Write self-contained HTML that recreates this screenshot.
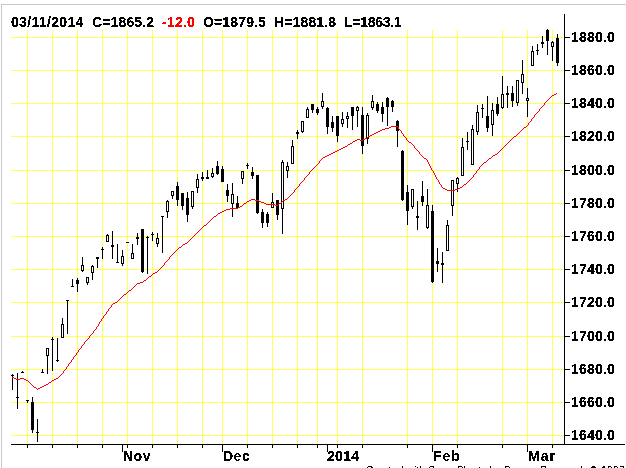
<!DOCTYPE html>
<html><head><meta charset="utf-8"><style>
html,body{margin:0;padding:0;background:#fff;}
body{width:626px;height:468px;overflow:hidden;}
svg{display:block;}
text{font-family:"Liberation Sans", Arial, sans-serif;}
</style></head><body>
<svg width="626" height="468" viewBox="0 0 626 468">
<g shape-rendering="crispEdges"><rect x="1" y="4" width="625" height="1" fill="#c8c8c8"/><rect x="1" y="4" width="1" height="464" fill="#c8c8c8"/><rect x="11" y="37" width="553" height="1" fill="#ffff55"/><rect x="11" y="70" width="553" height="1" fill="#ffff55"/><rect x="11" y="103" width="553" height="1" fill="#ffff55"/><rect x="11" y="136" width="553" height="1" fill="#ffff55"/><rect x="11" y="170" width="553" height="1" fill="#ffff55"/><rect x="11" y="203" width="553" height="1" fill="#ffff55"/><rect x="11" y="236" width="553" height="1" fill="#ffff55"/><rect x="11" y="269" width="553" height="1" fill="#ffff55"/><rect x="11" y="302" width="553" height="1" fill="#ffff55"/><rect x="11" y="336" width="553" height="1" fill="#ffff55"/><rect x="11" y="369" width="553" height="1" fill="#ffff55"/><rect x="11" y="402" width="553" height="1" fill="#ffff55"/><rect x="11" y="435" width="553" height="1" fill="#ffff55"/><rect x="27" y="30" width="1" height="414" fill="#ffff55"/><rect x="52" y="30" width="1" height="414" fill="#ffff55"/><rect x="77" y="30" width="1" height="414" fill="#ffff55"/><rect x="102" y="30" width="1" height="414" fill="#ffff55"/><rect x="127" y="30" width="1" height="414" fill="#ffff55"/><rect x="152" y="30" width="1" height="414" fill="#ffff55"/><rect x="177" y="30" width="1" height="414" fill="#ffff55"/><rect x="202" y="30" width="1" height="414" fill="#ffff55"/><rect x="222" y="30" width="1" height="414" fill="#ffff55"/><rect x="247" y="30" width="1" height="414" fill="#ffff55"/><rect x="272" y="30" width="1" height="414" fill="#ffff55"/><rect x="297" y="30" width="1" height="414" fill="#ffff55"/><rect x="317" y="30" width="1" height="414" fill="#ffff55"/><rect x="337" y="30" width="1" height="414" fill="#ffff55"/><rect x="362" y="30" width="1" height="414" fill="#ffff55"/><rect x="407" y="30" width="1" height="414" fill="#ffff55"/><rect x="432" y="30" width="1" height="414" fill="#ffff55"/><rect x="457" y="30" width="1" height="414" fill="#ffff55"/><rect x="502" y="30" width="1" height="414" fill="#ffff55"/><rect x="527" y="30" width="1" height="414" fill="#ffff55"/><rect x="552" y="30" width="1" height="414" fill="#ffff55"/></g>
<g shape-rendering="crispEdges"><rect x="12" y="374" width="1" height="16" fill="#000"/><rect x="11" y="375" width="3" height="1" fill="#000"/><rect x="17" y="373" width="1" height="36" fill="#000"/><rect x="16" y="397" width="3" height="1" fill="#000"/><rect x="22" y="371" width="1" height="2" fill="#000"/><rect x="21" y="372" width="3" height="1" fill="#000"/><rect x="27" y="400" width="1" height="3" fill="#000"/><rect x="26" y="400" width="3" height="1" fill="#000"/><rect x="32" y="397" width="1" height="5" fill="#000"/><rect x="32" y="430" width="1" height="3" fill="#000"/><rect x="31" y="402" width="3" height="28" fill="#000"/><rect x="37" y="419" width="1" height="23" fill="#000"/><rect x="36" y="432" width="3" height="1" fill="#000"/><rect x="42" y="369" width="1" height="4" fill="#000"/><rect x="41" y="372" width="3" height="1" fill="#000"/><rect x="47" y="356" width="1" height="18" fill="#000"/><rect x="46" y="348" width="3" height="8" fill="#000"/><rect x="47" y="349" width="1" height="6" fill="#fff"/><rect x="52" y="337" width="1" height="34" fill="#000"/><rect x="51" y="339" width="3" height="1" fill="#000"/><rect x="57" y="338" width="1" height="24" fill="#000"/><rect x="56" y="360" width="3" height="1" fill="#000"/><rect x="62" y="318" width="1" height="6" fill="#000"/><rect x="61" y="324" width="3" height="14" fill="#000"/><rect x="62" y="325" width="1" height="12" fill="#fff"/><rect x="67" y="300" width="1" height="34" fill="#000"/><rect x="66" y="300" width="3" height="1" fill="#000"/><rect x="72" y="279" width="1" height="8" fill="#000"/><rect x="71" y="286" width="3" height="1" fill="#000"/><rect x="77" y="278" width="1" height="2" fill="#000"/><rect x="77" y="284" width="1" height="8" fill="#000"/><rect x="76" y="280" width="3" height="4" fill="#000"/><rect x="82" y="257" width="1" height="8" fill="#000"/><rect x="82" y="271" width="1" height="1" fill="#000"/><rect x="81" y="265" width="3" height="6" fill="#000"/><rect x="82" y="266" width="1" height="4" fill="#fff"/><rect x="87" y="283" width="1" height="2" fill="#000"/><rect x="86" y="277" width="3" height="6" fill="#000"/><rect x="87" y="278" width="1" height="4" fill="#fff"/><rect x="92" y="265" width="1" height="1" fill="#000"/><rect x="92" y="273" width="1" height="7" fill="#000"/><rect x="91" y="266" width="3" height="7" fill="#000"/><rect x="92" y="267" width="1" height="5" fill="#fff"/><rect x="97" y="259" width="1" height="9" fill="#000"/><rect x="96" y="257" width="3" height="2" fill="#000"/><rect x="102" y="247" width="1" height="12" fill="#000"/><rect x="101" y="249" width="3" height="1" fill="#000"/><rect x="107" y="234" width="1" height="1" fill="#000"/><rect x="106" y="235" width="3" height="7" fill="#000"/><rect x="107" y="236" width="1" height="5" fill="#fff"/><rect x="112" y="231" width="1" height="14" fill="#000"/><rect x="112" y="247" width="1" height="12" fill="#000"/><rect x="111" y="245" width="3" height="2" fill="#000"/><rect x="117" y="244" width="1" height="19" fill="#000"/><rect x="116" y="262" width="3" height="1" fill="#000"/><rect x="122" y="250" width="1" height="6" fill="#000"/><rect x="122" y="264" width="1" height="2" fill="#000"/><rect x="121" y="256" width="3" height="8" fill="#000"/><rect x="122" y="257" width="1" height="6" fill="#fff"/><rect x="127" y="242" width="1" height="1" fill="#000"/><rect x="126" y="242" width="3" height="1" fill="#000"/><rect x="132" y="244" width="1" height="9" fill="#000"/><rect x="131" y="253" width="3" height="6" fill="#000"/><rect x="132" y="254" width="1" height="4" fill="#fff"/><rect x="137" y="233" width="1" height="4" fill="#000"/><rect x="137" y="239" width="1" height="6" fill="#000"/><rect x="136" y="237" width="3" height="2" fill="#000"/><rect x="142" y="272" width="1" height="1" fill="#000"/><rect x="141" y="229" width="3" height="43" fill="#000"/><rect x="147" y="236" width="1" height="38" fill="#000"/><rect x="146" y="237" width="3" height="1" fill="#000"/><rect x="152" y="232" width="1" height="9" fill="#000"/><rect x="151" y="234" width="3" height="1" fill="#000"/><rect x="157" y="233" width="1" height="5" fill="#000"/><rect x="157" y="244" width="1" height="3" fill="#000"/><rect x="156" y="238" width="3" height="6" fill="#000"/><rect x="157" y="239" width="1" height="4" fill="#fff"/><rect x="162" y="216" width="1" height="37" fill="#000"/><rect x="161" y="216" width="3" height="1" fill="#000"/><rect x="167" y="200" width="1" height="1" fill="#000"/><rect x="167" y="212" width="1" height="6" fill="#000"/><rect x="166" y="201" width="3" height="11" fill="#000"/><rect x="167" y="202" width="1" height="9" fill="#fff"/><rect x="172" y="196" width="1" height="3" fill="#000"/><rect x="171" y="191" width="3" height="5" fill="#000"/><rect x="172" y="192" width="1" height="3" fill="#fff"/><rect x="177" y="182" width="1" height="4" fill="#000"/><rect x="177" y="200" width="1" height="6" fill="#000"/><rect x="176" y="186" width="3" height="14" fill="#000"/><rect x="182" y="206" width="1" height="4" fill="#000"/><rect x="181" y="193" width="3" height="13" fill="#000"/><rect x="187" y="192" width="1" height="6" fill="#000"/><rect x="187" y="215" width="1" height="7" fill="#000"/><rect x="186" y="198" width="3" height="17" fill="#000"/><rect x="192" y="207" width="1" height="2" fill="#000"/><rect x="191" y="191" width="3" height="16" fill="#000"/><rect x="192" y="192" width="1" height="14" fill="#fff"/><rect x="197" y="174" width="1" height="5" fill="#000"/><rect x="197" y="188" width="1" height="5" fill="#000"/><rect x="196" y="179" width="3" height="9" fill="#000"/><rect x="197" y="180" width="1" height="7" fill="#fff"/><rect x="202" y="172" width="1" height="5" fill="#000"/><rect x="202" y="179" width="1" height="2" fill="#000"/><rect x="201" y="177" width="3" height="2" fill="#000"/><rect x="207" y="170" width="1" height="7" fill="#000"/><rect x="206" y="177" width="3" height="2" fill="#000"/><rect x="212" y="168" width="1" height="5" fill="#000"/><rect x="212" y="177" width="1" height="1" fill="#000"/><rect x="211" y="173" width="3" height="4" fill="#000"/><rect x="212" y="174" width="1" height="2" fill="#fff"/><rect x="217" y="161" width="1" height="5" fill="#000"/><rect x="217" y="174" width="1" height="1" fill="#000"/><rect x="216" y="166" width="3" height="8" fill="#000"/><rect x="222" y="166" width="1" height="3" fill="#000"/><rect x="221" y="169" width="3" height="13" fill="#000"/><rect x="227" y="184" width="1" height="6" fill="#000"/><rect x="227" y="196" width="1" height="6" fill="#000"/><rect x="226" y="190" width="3" height="6" fill="#000"/><rect x="232" y="183" width="1" height="11" fill="#000"/><rect x="232" y="204" width="1" height="13" fill="#000"/><rect x="231" y="194" width="3" height="10" fill="#000"/><rect x="232" y="195" width="1" height="8" fill="#fff"/><rect x="237" y="196" width="1" height="7" fill="#000"/><rect x="236" y="203" width="3" height="5" fill="#000"/><rect x="242" y="179" width="1" height="5" fill="#000"/><rect x="241" y="171" width="3" height="8" fill="#000"/><rect x="242" y="172" width="1" height="6" fill="#fff"/><rect x="247" y="163" width="1" height="6" fill="#000"/><rect x="246" y="165" width="3" height="1" fill="#000"/><rect x="252" y="167" width="1" height="5" fill="#000"/><rect x="252" y="176" width="1" height="3" fill="#000"/><rect x="251" y="172" width="3" height="4" fill="#000"/><rect x="257" y="213" width="1" height="1" fill="#000"/><rect x="256" y="175" width="3" height="38" fill="#000"/><rect x="262" y="209" width="1" height="3" fill="#000"/><rect x="262" y="223" width="1" height="5" fill="#000"/><rect x="261" y="212" width="3" height="11" fill="#000"/><rect x="267" y="212" width="1" height="2" fill="#000"/><rect x="267" y="223" width="1" height="4" fill="#000"/><rect x="266" y="214" width="3" height="9" fill="#000"/><rect x="272" y="193" width="1" height="9" fill="#000"/><rect x="271" y="202" width="3" height="6" fill="#000"/><rect x="272" y="203" width="1" height="4" fill="#fff"/><rect x="277" y="215" width="1" height="5" fill="#000"/><rect x="276" y="200" width="3" height="15" fill="#000"/><rect x="282" y="160" width="1" height="2" fill="#000"/><rect x="282" y="209" width="1" height="25" fill="#000"/><rect x="281" y="162" width="3" height="47" fill="#000"/><rect x="282" y="163" width="1" height="45" fill="#fff"/><rect x="287" y="162" width="1" height="4" fill="#000"/><rect x="287" y="171" width="1" height="7" fill="#000"/><rect x="286" y="166" width="3" height="5" fill="#000"/><rect x="287" y="167" width="1" height="3" fill="#fff"/><rect x="292" y="140" width="1" height="6" fill="#000"/><rect x="291" y="146" width="3" height="18" fill="#000"/><rect x="292" y="147" width="1" height="16" fill="#fff"/><rect x="297" y="130" width="1" height="2" fill="#000"/><rect x="297" y="134" width="1" height="5" fill="#000"/><rect x="296" y="132" width="3" height="2" fill="#000"/><rect x="302" y="132" width="1" height="1" fill="#000"/><rect x="301" y="121" width="3" height="11" fill="#000"/><rect x="302" y="122" width="1" height="9" fill="#fff"/><rect x="307" y="107" width="1" height="2" fill="#000"/><rect x="306" y="109" width="3" height="9" fill="#000"/><rect x="307" y="110" width="1" height="7" fill="#fff"/><rect x="312" y="110" width="1" height="3" fill="#000"/><rect x="311" y="104" width="3" height="6" fill="#000"/><rect x="317" y="107" width="1" height="2" fill="#000"/><rect x="317" y="113" width="1" height="2" fill="#000"/><rect x="316" y="109" width="3" height="4" fill="#000"/><rect x="322" y="93" width="1" height="8" fill="#000"/><rect x="322" y="107" width="1" height="2" fill="#000"/><rect x="321" y="101" width="3" height="6" fill="#000"/><rect x="322" y="102" width="1" height="4" fill="#fff"/><rect x="327" y="107" width="1" height="1" fill="#000"/><rect x="327" y="127" width="1" height="7" fill="#000"/><rect x="326" y="108" width="3" height="19" fill="#000"/><rect x="332" y="116" width="1" height="6" fill="#000"/><rect x="332" y="128" width="1" height="4" fill="#000"/><rect x="331" y="122" width="3" height="6" fill="#000"/><rect x="337" y="136" width="1" height="6" fill="#000"/><rect x="336" y="116" width="3" height="20" fill="#000"/><rect x="342" y="112" width="1" height="7" fill="#000"/><rect x="342" y="124" width="1" height="3" fill="#000"/><rect x="341" y="119" width="3" height="5" fill="#000"/><rect x="342" y="120" width="1" height="3" fill="#fff"/><rect x="347" y="112" width="1" height="4" fill="#000"/><rect x="347" y="119" width="1" height="9" fill="#000"/><rect x="346" y="116" width="3" height="3" fill="#000"/><rect x="347" y="117" width="1" height="1" fill="#fff"/><rect x="352" y="116" width="1" height="14" fill="#000"/><rect x="351" y="107" width="3" height="9" fill="#000"/><rect x="357" y="106" width="1" height="1" fill="#000"/><rect x="357" y="111" width="1" height="16" fill="#000"/><rect x="356" y="107" width="3" height="4" fill="#000"/><rect x="357" y="108" width="1" height="2" fill="#fff"/><rect x="362" y="107" width="1" height="8" fill="#000"/><rect x="362" y="146" width="1" height="8" fill="#000"/><rect x="361" y="115" width="3" height="31" fill="#000"/><rect x="367" y="113" width="1" height="2" fill="#000"/><rect x="367" y="139" width="1" height="5" fill="#000"/><rect x="366" y="115" width="3" height="24" fill="#000"/><rect x="367" y="116" width="1" height="22" fill="#fff"/><rect x="372" y="95" width="1" height="6" fill="#000"/><rect x="372" y="108" width="1" height="2" fill="#000"/><rect x="371" y="101" width="3" height="7" fill="#000"/><rect x="372" y="102" width="1" height="5" fill="#fff"/><rect x="377" y="102" width="1" height="2" fill="#000"/><rect x="377" y="111" width="1" height="2" fill="#000"/><rect x="376" y="104" width="3" height="7" fill="#000"/><rect x="382" y="102" width="1" height="5" fill="#000"/><rect x="382" y="114" width="1" height="8" fill="#000"/><rect x="381" y="107" width="3" height="7" fill="#000"/><rect x="387" y="97" width="1" height="1" fill="#000"/><rect x="387" y="107" width="1" height="19" fill="#000"/><rect x="386" y="98" width="3" height="9" fill="#000"/><rect x="392" y="100" width="1" height="1" fill="#000"/><rect x="392" y="107" width="1" height="5" fill="#000"/><rect x="391" y="101" width="3" height="6" fill="#000"/><rect x="397" y="120" width="1" height="1" fill="#000"/><rect x="397" y="131" width="1" height="16" fill="#000"/><rect x="396" y="121" width="3" height="10" fill="#000"/><rect x="402" y="150" width="1" height="1" fill="#000"/><rect x="402" y="200" width="1" height="1" fill="#000"/><rect x="401" y="151" width="3" height="49" fill="#000"/><rect x="407" y="185" width="1" height="7" fill="#000"/><rect x="407" y="211" width="1" height="14" fill="#000"/><rect x="406" y="192" width="3" height="19" fill="#000"/><rect x="412" y="207" width="1" height="2" fill="#000"/><rect x="411" y="189" width="3" height="18" fill="#000"/><rect x="412" y="190" width="1" height="16" fill="#fff"/><rect x="417" y="201" width="1" height="15" fill="#000"/><rect x="417" y="218" width="1" height="12" fill="#000"/><rect x="416" y="216" width="3" height="2" fill="#000"/><rect x="422" y="181" width="1" height="15" fill="#000"/><rect x="422" y="202" width="1" height="4" fill="#000"/><rect x="421" y="196" width="3" height="6" fill="#000"/><rect x="427" y="189" width="1" height="16" fill="#000"/><rect x="427" y="228" width="1" height="1" fill="#000"/><rect x="426" y="205" width="3" height="23" fill="#000"/><rect x="427" y="206" width="1" height="21" fill="#fff"/><rect x="432" y="205" width="1" height="6" fill="#000"/><rect x="432" y="282" width="1" height="1" fill="#000"/><rect x="431" y="211" width="3" height="71" fill="#000"/><rect x="437" y="248" width="1" height="13" fill="#000"/><rect x="437" y="264" width="1" height="8" fill="#000"/><rect x="436" y="261" width="3" height="3" fill="#000"/><rect x="442" y="252" width="1" height="11" fill="#000"/><rect x="442" y="265" width="1" height="18" fill="#000"/><rect x="441" y="263" width="3" height="2" fill="#000"/><rect x="447" y="220" width="1" height="5" fill="#000"/><rect x="446" y="225" width="3" height="26" fill="#000"/><rect x="447" y="226" width="1" height="24" fill="#fff"/><rect x="452" y="206" width="1" height="10" fill="#000"/><rect x="451" y="180" width="3" height="26" fill="#000"/><rect x="452" y="181" width="1" height="24" fill="#fff"/><rect x="457" y="177" width="1" height="1" fill="#000"/><rect x="457" y="184" width="1" height="8" fill="#000"/><rect x="456" y="178" width="3" height="6" fill="#000"/><rect x="457" y="179" width="1" height="4" fill="#fff"/><rect x="462" y="138" width="1" height="9" fill="#000"/><rect x="461" y="147" width="3" height="29" fill="#000"/><rect x="462" y="148" width="1" height="27" fill="#fff"/><rect x="467" y="132" width="1" height="18" fill="#000"/><rect x="466" y="141" width="3" height="1" fill="#000"/><rect x="472" y="125" width="1" height="4" fill="#000"/><rect x="471" y="129" width="3" height="36" fill="#000"/><rect x="472" y="130" width="1" height="34" fill="#fff"/><rect x="477" y="105" width="1" height="7" fill="#000"/><rect x="477" y="132" width="1" height="3" fill="#000"/><rect x="476" y="112" width="3" height="20" fill="#000"/><rect x="477" y="113" width="1" height="18" fill="#fff"/><rect x="482" y="104" width="1" height="14" fill="#000"/><rect x="481" y="108" width="3" height="1" fill="#000"/><rect x="487" y="96" width="1" height="20" fill="#000"/><rect x="487" y="128" width="1" height="4" fill="#000"/><rect x="486" y="116" width="3" height="12" fill="#000"/><rect x="492" y="103" width="1" height="7" fill="#000"/><rect x="492" y="125" width="1" height="11" fill="#000"/><rect x="491" y="110" width="3" height="15" fill="#000"/><rect x="492" y="111" width="1" height="13" fill="#fff"/><rect x="497" y="97" width="1" height="7" fill="#000"/><rect x="497" y="114" width="1" height="2" fill="#000"/><rect x="496" y="104" width="3" height="10" fill="#000"/><rect x="502" y="76" width="1" height="18" fill="#000"/><rect x="502" y="108" width="1" height="1" fill="#000"/><rect x="501" y="94" width="3" height="14" fill="#000"/><rect x="502" y="95" width="1" height="12" fill="#fff"/><rect x="507" y="86" width="1" height="7" fill="#000"/><rect x="507" y="95" width="1" height="13" fill="#000"/><rect x="506" y="93" width="3" height="2" fill="#000"/><rect x="512" y="86" width="1" height="7" fill="#000"/><rect x="512" y="101" width="1" height="6" fill="#000"/><rect x="511" y="93" width="3" height="8" fill="#000"/><rect x="517" y="103" width="1" height="3" fill="#000"/><rect x="516" y="80" width="3" height="23" fill="#000"/><rect x="517" y="81" width="1" height="21" fill="#fff"/><rect x="522" y="60" width="1" height="14" fill="#000"/><rect x="522" y="83" width="1" height="11" fill="#000"/><rect x="521" y="74" width="3" height="9" fill="#000"/><rect x="522" y="75" width="1" height="7" fill="#fff"/><rect x="527" y="88" width="1" height="10" fill="#000"/><rect x="527" y="101" width="1" height="16" fill="#000"/><rect x="526" y="98" width="3" height="3" fill="#000"/><rect x="527" y="99" width="1" height="1" fill="#fff"/><rect x="532" y="46" width="1" height="5" fill="#000"/><rect x="531" y="51" width="3" height="15" fill="#000"/><rect x="532" y="52" width="1" height="13" fill="#fff"/><rect x="537" y="44" width="1" height="11" fill="#000"/><rect x="536" y="50" width="3" height="1" fill="#000"/><rect x="542" y="36" width="1" height="6" fill="#000"/><rect x="542" y="44" width="1" height="4" fill="#000"/><rect x="541" y="42" width="3" height="2" fill="#000"/><rect x="547" y="29" width="1" height="1" fill="#000"/><rect x="547" y="41" width="1" height="14" fill="#000"/><rect x="546" y="30" width="3" height="11" fill="#000"/><rect x="552" y="41" width="1" height="1" fill="#000"/><rect x="552" y="47" width="1" height="14" fill="#000"/><rect x="551" y="42" width="3" height="5" fill="#000"/><rect x="552" y="43" width="1" height="3" fill="#fff"/><rect x="557" y="34" width="1" height="4" fill="#000"/><rect x="557" y="63" width="1" height="3" fill="#000"/><rect x="556" y="38" width="3" height="25" fill="#000"/><rect x="11" y="444" width="614" height="1" fill="#000"/><rect x="564" y="14" width="1" height="431" fill="#000"/><rect x="565" y="37" width="5" height="1" fill="#000"/><rect x="565" y="70" width="5" height="1" fill="#000"/><rect x="565" y="103" width="5" height="1" fill="#000"/><rect x="565" y="136" width="5" height="1" fill="#000"/><rect x="565" y="170" width="5" height="1" fill="#000"/><rect x="565" y="203" width="5" height="1" fill="#000"/><rect x="565" y="236" width="5" height="1" fill="#000"/><rect x="565" y="269" width="5" height="1" fill="#000"/><rect x="565" y="302" width="5" height="1" fill="#000"/><rect x="565" y="336" width="5" height="1" fill="#000"/><rect x="565" y="369" width="5" height="1" fill="#000"/><rect x="565" y="402" width="5" height="1" fill="#000"/><rect x="565" y="435" width="5" height="1" fill="#000"/><rect x="27" y="445" width="1" height="3" fill="#000"/><rect x="52" y="445" width="1" height="3" fill="#000"/><rect x="77" y="445" width="1" height="3" fill="#000"/><rect x="102" y="445" width="1" height="3" fill="#000"/><rect x="127" y="445" width="1" height="3" fill="#000"/><rect x="152" y="445" width="1" height="3" fill="#000"/><rect x="177" y="445" width="1" height="3" fill="#000"/><rect x="202" y="445" width="1" height="3" fill="#000"/><rect x="222" y="445" width="1" height="3" fill="#000"/><rect x="247" y="445" width="1" height="3" fill="#000"/><rect x="272" y="445" width="1" height="3" fill="#000"/><rect x="297" y="445" width="1" height="3" fill="#000"/><rect x="317" y="445" width="1" height="3" fill="#000"/><rect x="337" y="445" width="1" height="3" fill="#000"/><rect x="362" y="445" width="1" height="3" fill="#000"/><rect x="407" y="445" width="1" height="3" fill="#000"/><rect x="432" y="445" width="1" height="3" fill="#000"/><rect x="457" y="445" width="1" height="3" fill="#000"/><rect x="502" y="445" width="1" height="3" fill="#000"/><rect x="527" y="445" width="1" height="3" fill="#000"/><rect x="552" y="445" width="1" height="3" fill="#000"/><rect x="122" y="445" width="1" height="7" fill="#000"/><rect x="222" y="445" width="1" height="7" fill="#000"/><rect x="327" y="445" width="1" height="7" fill="#000"/><rect x="432" y="445" width="1" height="7" fill="#000"/><rect x="527" y="445" width="1" height="7" fill="#000"/></g>
<g shape-rendering="crispEdges" fill="#ff0000"><rect x="12" y="377" width="1" height="1"/><rect x="13" y="377" width="1" height="1"/><rect x="14" y="378" width="1" height="1"/><rect x="15" y="378" width="1" height="1"/><rect x="16" y="379" width="1" height="1"/><rect x="17" y="379" width="1" height="1"/><rect x="18" y="379" width="1" height="1"/><rect x="19" y="379" width="1" height="1"/><rect x="20" y="378" width="1" height="1"/><rect x="21" y="378" width="1" height="1"/><rect x="22" y="378" width="1" height="1"/><rect x="23" y="378" width="1" height="1"/><rect x="24" y="379" width="1" height="1"/><rect x="25" y="379" width="1" height="1"/><rect x="26" y="380" width="1" height="1"/><rect x="27" y="380" width="1" height="1"/><rect x="28" y="381" width="1" height="1"/><rect x="29" y="382" width="1" height="1"/><rect x="30" y="383" width="1" height="1"/><rect x="31" y="384" width="1" height="1"/><rect x="32" y="385" width="1" height="1"/><rect x="33" y="386" width="1" height="1"/><rect x="34" y="387" width="1" height="1"/><rect x="35" y="387" width="1" height="1"/><rect x="36" y="388" width="1" height="1"/><rect x="37" y="389" width="1" height="1"/><rect x="38" y="388" width="1" height="1"/><rect x="39" y="388" width="1" height="1"/><rect x="40" y="387" width="1" height="1"/><rect x="41" y="387" width="1" height="1"/><rect x="42" y="386" width="1" height="1"/><rect x="43" y="386" width="1" height="1"/><rect x="44" y="385" width="1" height="1"/><rect x="45" y="385" width="1" height="1"/><rect x="46" y="384" width="1" height="1"/><rect x="47" y="384" width="1" height="1"/><rect x="48" y="383" width="1" height="1"/><rect x="49" y="382" width="1" height="1"/><rect x="50" y="382" width="1" height="1"/><rect x="51" y="381" width="1" height="1"/><rect x="52" y="380" width="1" height="1"/><rect x="53" y="380" width="1" height="1"/><rect x="54" y="379" width="1" height="1"/><rect x="55" y="379" width="1" height="1"/><rect x="56" y="378" width="1" height="1"/><rect x="57" y="378" width="1" height="1"/><rect x="58" y="377" width="1" height="1"/><rect x="59" y="376" width="1" height="1"/><rect x="60" y="375" width="1" height="1"/><rect x="61" y="374" width="1" height="1"/><rect x="62" y="373" width="1" height="1"/><rect x="63" y="371" width="1" height="2"/><rect x="64" y="370" width="1" height="1"/><rect x="65" y="369" width="1" height="1"/><rect x="66" y="367" width="1" height="2"/><rect x="67" y="366" width="1" height="1"/><rect x="68" y="364" width="1" height="2"/><rect x="69" y="363" width="1" height="1"/><rect x="70" y="362" width="1" height="1"/><rect x="71" y="360" width="1" height="2"/><rect x="72" y="359" width="1" height="1"/><rect x="73" y="357" width="1" height="2"/><rect x="74" y="356" width="1" height="1"/><rect x="75" y="355" width="1" height="1"/><rect x="76" y="353" width="1" height="2"/><rect x="77" y="352" width="1" height="1"/><rect x="78" y="350" width="1" height="2"/><rect x="79" y="349" width="1" height="1"/><rect x="80" y="348" width="1" height="1"/><rect x="81" y="346" width="1" height="2"/><rect x="82" y="345" width="1" height="1"/><rect x="83" y="344" width="1" height="1"/><rect x="84" y="342" width="1" height="2"/><rect x="85" y="341" width="1" height="1"/><rect x="86" y="340" width="1" height="1"/><rect x="87" y="339" width="1" height="1"/><rect x="88" y="338" width="1" height="1"/><rect x="89" y="336" width="1" height="2"/><rect x="90" y="335" width="1" height="1"/><rect x="91" y="334" width="1" height="1"/><rect x="92" y="333" width="1" height="1"/><rect x="93" y="331" width="1" height="2"/><rect x="94" y="330" width="1" height="1"/><rect x="95" y="329" width="1" height="1"/><rect x="96" y="327" width="1" height="2"/><rect x="97" y="326" width="1" height="1"/><rect x="98" y="324" width="1" height="2"/><rect x="99" y="322" width="1" height="2"/><rect x="100" y="321" width="1" height="1"/><rect x="101" y="319" width="1" height="2"/><rect x="102" y="318" width="1" height="1"/><rect x="103" y="316" width="1" height="2"/><rect x="104" y="315" width="1" height="1"/><rect x="105" y="314" width="1" height="1"/><rect x="106" y="312" width="1" height="2"/><rect x="107" y="311" width="1" height="1"/><rect x="108" y="309" width="1" height="2"/><rect x="109" y="308" width="1" height="1"/><rect x="110" y="307" width="1" height="1"/><rect x="111" y="305" width="1" height="2"/><rect x="112" y="304" width="1" height="1"/><rect x="113" y="303" width="1" height="1"/><rect x="114" y="303" width="1" height="1"/><rect x="115" y="302" width="1" height="1"/><rect x="116" y="302" width="1" height="1"/><rect x="117" y="301" width="1" height="1"/><rect x="118" y="300" width="1" height="1"/><rect x="119" y="299" width="1" height="1"/><rect x="120" y="298" width="1" height="1"/><rect x="121" y="297" width="1" height="1"/><rect x="122" y="296" width="1" height="1"/><rect x="123" y="295" width="1" height="1"/><rect x="124" y="294" width="1" height="1"/><rect x="125" y="294" width="1" height="1"/><rect x="126" y="293" width="1" height="1"/><rect x="127" y="292" width="1" height="1"/><rect x="128" y="291" width="1" height="1"/><rect x="129" y="290" width="1" height="1"/><rect x="130" y="290" width="1" height="1"/><rect x="131" y="289" width="1" height="1"/><rect x="132" y="288" width="1" height="1"/><rect x="133" y="287" width="1" height="1"/><rect x="134" y="286" width="1" height="1"/><rect x="135" y="285" width="1" height="1"/><rect x="136" y="284" width="1" height="1"/><rect x="137" y="283" width="1" height="1"/><rect x="138" y="283" width="1" height="1"/><rect x="139" y="283" width="1" height="1"/><rect x="140" y="282" width="1" height="1"/><rect x="141" y="282" width="1" height="1"/><rect x="142" y="282" width="1" height="1"/><rect x="143" y="281" width="1" height="1"/><rect x="144" y="280" width="1" height="1"/><rect x="145" y="280" width="1" height="1"/><rect x="146" y="279" width="1" height="1"/><rect x="147" y="278" width="1" height="1"/><rect x="148" y="277" width="1" height="1"/><rect x="149" y="276" width="1" height="1"/><rect x="150" y="276" width="1" height="1"/><rect x="151" y="275" width="1" height="1"/><rect x="152" y="274" width="1" height="1"/><rect x="153" y="273" width="1" height="1"/><rect x="154" y="273" width="1" height="1"/><rect x="155" y="272" width="1" height="1"/><rect x="156" y="272" width="1" height="1"/><rect x="157" y="271" width="1" height="1"/><rect x="158" y="270" width="1" height="1"/><rect x="159" y="269" width="1" height="1"/><rect x="160" y="268" width="1" height="1"/><rect x="161" y="267" width="1" height="1"/><rect x="162" y="266" width="1" height="1"/><rect x="163" y="265" width="1" height="1"/><rect x="164" y="263" width="1" height="2"/><rect x="165" y="262" width="1" height="1"/><rect x="166" y="261" width="1" height="1"/><rect x="167" y="260" width="1" height="1"/><rect x="168" y="259" width="1" height="1"/><rect x="169" y="257" width="1" height="2"/><rect x="170" y="256" width="1" height="1"/><rect x="171" y="255" width="1" height="1"/><rect x="172" y="254" width="1" height="1"/><rect x="173" y="253" width="1" height="1"/><rect x="174" y="252" width="1" height="1"/><rect x="175" y="251" width="1" height="1"/><rect x="176" y="250" width="1" height="1"/><rect x="177" y="249" width="1" height="1"/><rect x="178" y="248" width="1" height="1"/><rect x="179" y="247" width="1" height="1"/><rect x="180" y="247" width="1" height="1"/><rect x="181" y="246" width="1" height="1"/><rect x="182" y="245" width="1" height="1"/><rect x="183" y="244" width="1" height="1"/><rect x="184" y="244" width="1" height="1"/><rect x="185" y="243" width="1" height="1"/><rect x="186" y="243" width="1" height="1"/><rect x="187" y="242" width="1" height="1"/><rect x="188" y="241" width="1" height="1"/><rect x="189" y="240" width="1" height="1"/><rect x="190" y="239" width="1" height="1"/><rect x="191" y="238" width="1" height="1"/><rect x="192" y="237" width="1" height="1"/><rect x="193" y="236" width="1" height="1"/><rect x="194" y="235" width="1" height="1"/><rect x="195" y="234" width="1" height="1"/><rect x="196" y="233" width="1" height="1"/><rect x="197" y="232" width="1" height="1"/><rect x="198" y="231" width="1" height="1"/><rect x="199" y="230" width="1" height="1"/><rect x="200" y="229" width="1" height="1"/><rect x="201" y="228" width="1" height="1"/><rect x="202" y="227" width="1" height="1"/><rect x="203" y="226" width="1" height="1"/><rect x="204" y="225" width="1" height="1"/><rect x="205" y="225" width="1" height="1"/><rect x="206" y="224" width="1" height="1"/><rect x="207" y="223" width="1" height="1"/><rect x="208" y="222" width="1" height="1"/><rect x="209" y="221" width="1" height="1"/><rect x="210" y="220" width="1" height="1"/><rect x="211" y="219" width="1" height="1"/><rect x="212" y="218" width="1" height="1"/><rect x="213" y="217" width="1" height="1"/><rect x="214" y="216" width="1" height="1"/><rect x="215" y="216" width="1" height="1"/><rect x="216" y="215" width="1" height="1"/><rect x="217" y="214" width="1" height="1"/><rect x="218" y="213" width="1" height="1"/><rect x="219" y="213" width="1" height="1"/><rect x="220" y="212" width="1" height="1"/><rect x="221" y="212" width="1" height="1"/><rect x="222" y="211" width="1" height="1"/><rect x="223" y="211" width="1" height="1"/><rect x="224" y="210" width="1" height="1"/><rect x="225" y="210" width="1" height="1"/><rect x="226" y="209" width="1" height="1"/><rect x="227" y="209" width="1" height="1"/><rect x="228" y="209" width="1" height="1"/><rect x="229" y="209" width="1" height="1"/><rect x="230" y="208" width="1" height="1"/><rect x="231" y="208" width="1" height="1"/><rect x="232" y="208" width="1" height="1"/><rect x="233" y="208" width="1" height="1"/><rect x="234" y="208" width="1" height="1"/><rect x="235" y="208" width="1" height="1"/><rect x="236" y="208" width="1" height="1"/><rect x="237" y="208" width="1" height="1"/><rect x="238" y="207" width="1" height="1"/><rect x="239" y="207" width="1" height="1"/><rect x="240" y="206" width="1" height="1"/><rect x="241" y="206" width="1" height="1"/><rect x="242" y="205" width="1" height="1"/><rect x="243" y="204" width="1" height="1"/><rect x="244" y="203" width="1" height="1"/><rect x="245" y="203" width="1" height="1"/><rect x="246" y="202" width="1" height="1"/><rect x="247" y="201" width="1" height="1"/><rect x="248" y="201" width="1" height="1"/><rect x="249" y="200" width="1" height="1"/><rect x="250" y="200" width="1" height="1"/><rect x="251" y="199" width="1" height="1"/><rect x="252" y="199" width="1" height="1"/><rect x="253" y="199" width="1" height="1"/><rect x="254" y="199" width="1" height="1"/><rect x="255" y="200" width="1" height="1"/><rect x="256" y="200" width="1" height="1"/><rect x="257" y="200" width="1" height="1"/><rect x="258" y="200" width="1" height="1"/><rect x="259" y="201" width="1" height="1"/><rect x="260" y="201" width="1" height="1"/><rect x="261" y="202" width="1" height="1"/><rect x="262" y="202" width="1" height="1"/><rect x="263" y="202" width="1" height="1"/><rect x="264" y="203" width="1" height="1"/><rect x="265" y="203" width="1" height="1"/><rect x="266" y="204" width="1" height="1"/><rect x="267" y="204" width="1" height="1"/><rect x="268" y="204" width="1" height="1"/><rect x="269" y="204" width="1" height="1"/><rect x="270" y="204" width="1" height="1"/><rect x="271" y="204" width="1" height="1"/><rect x="272" y="204" width="1" height="1"/><rect x="273" y="204" width="1" height="1"/><rect x="274" y="204" width="1" height="1"/><rect x="275" y="205" width="1" height="1"/><rect x="276" y="205" width="1" height="1"/><rect x="277" y="205" width="1" height="1"/><rect x="278" y="204" width="1" height="1"/><rect x="279" y="203" width="1" height="1"/><rect x="280" y="203" width="1" height="1"/><rect x="281" y="202" width="1" height="1"/><rect x="282" y="201" width="1" height="1"/><rect x="283" y="200" width="1" height="1"/><rect x="284" y="200" width="1" height="1"/><rect x="285" y="199" width="1" height="1"/><rect x="286" y="199" width="1" height="1"/><rect x="287" y="198" width="1" height="1"/><rect x="288" y="197" width="1" height="1"/><rect x="289" y="196" width="1" height="1"/><rect x="290" y="195" width="1" height="1"/><rect x="291" y="194" width="1" height="1"/><rect x="292" y="193" width="1" height="1"/><rect x="293" y="192" width="1" height="1"/><rect x="294" y="190" width="1" height="2"/><rect x="295" y="189" width="1" height="1"/><rect x="296" y="188" width="1" height="1"/><rect x="297" y="187" width="1" height="1"/><rect x="298" y="186" width="1" height="1"/><rect x="299" y="184" width="1" height="2"/><rect x="300" y="183" width="1" height="1"/><rect x="301" y="182" width="1" height="1"/><rect x="302" y="181" width="1" height="1"/><rect x="303" y="180" width="1" height="1"/><rect x="304" y="178" width="1" height="2"/><rect x="305" y="177" width="1" height="1"/><rect x="306" y="176" width="1" height="1"/><rect x="307" y="175" width="1" height="1"/><rect x="308" y="174" width="1" height="1"/><rect x="309" y="172" width="1" height="2"/><rect x="310" y="171" width="1" height="1"/><rect x="311" y="170" width="1" height="1"/><rect x="312" y="169" width="1" height="1"/><rect x="313" y="168" width="1" height="1"/><rect x="314" y="167" width="1" height="1"/><rect x="315" y="166" width="1" height="1"/><rect x="316" y="165" width="1" height="1"/><rect x="317" y="164" width="1" height="1"/><rect x="318" y="163" width="1" height="1"/><rect x="319" y="161" width="1" height="2"/><rect x="320" y="160" width="1" height="1"/><rect x="321" y="159" width="1" height="1"/><rect x="322" y="158" width="1" height="1"/><rect x="323" y="157" width="1" height="1"/><rect x="324" y="157" width="1" height="1"/><rect x="325" y="156" width="1" height="1"/><rect x="326" y="156" width="1" height="1"/><rect x="327" y="155" width="1" height="1"/><rect x="328" y="155" width="1" height="1"/><rect x="329" y="154" width="1" height="1"/><rect x="330" y="154" width="1" height="1"/><rect x="331" y="153" width="1" height="1"/><rect x="332" y="153" width="1" height="1"/><rect x="333" y="152" width="1" height="1"/><rect x="334" y="152" width="1" height="1"/><rect x="335" y="151" width="1" height="1"/><rect x="336" y="151" width="1" height="1"/><rect x="337" y="150" width="1" height="1"/><rect x="338" y="150" width="1" height="1"/><rect x="339" y="149" width="1" height="1"/><rect x="340" y="149" width="1" height="1"/><rect x="341" y="148" width="1" height="1"/><rect x="342" y="148" width="1" height="1"/><rect x="343" y="147" width="1" height="1"/><rect x="344" y="147" width="1" height="1"/><rect x="345" y="146" width="1" height="1"/><rect x="346" y="146" width="1" height="1"/><rect x="347" y="145" width="1" height="1"/><rect x="348" y="144" width="1" height="1"/><rect x="349" y="144" width="1" height="1"/><rect x="350" y="143" width="1" height="1"/><rect x="351" y="143" width="1" height="1"/><rect x="352" y="142" width="1" height="1"/><rect x="353" y="141" width="1" height="1"/><rect x="354" y="141" width="1" height="1"/><rect x="355" y="140" width="1" height="1"/><rect x="356" y="140" width="1" height="1"/><rect x="357" y="139" width="1" height="1"/><rect x="358" y="139" width="1" height="1"/><rect x="359" y="139" width="1" height="1"/><rect x="360" y="140" width="1" height="1"/><rect x="361" y="140" width="1" height="1"/><rect x="362" y="140" width="1" height="1"/><rect x="363" y="139" width="1" height="1"/><rect x="364" y="139" width="1" height="1"/><rect x="365" y="138" width="1" height="1"/><rect x="366" y="138" width="1" height="1"/><rect x="367" y="137" width="1" height="1"/><rect x="368" y="136" width="1" height="1"/><rect x="369" y="136" width="1" height="1"/><rect x="370" y="135" width="1" height="1"/><rect x="371" y="135" width="1" height="1"/><rect x="372" y="134" width="1" height="1"/><rect x="373" y="134" width="1" height="1"/><rect x="374" y="133" width="1" height="1"/><rect x="375" y="133" width="1" height="1"/><rect x="376" y="132" width="1" height="1"/><rect x="377" y="132" width="1" height="1"/><rect x="378" y="131" width="1" height="1"/><rect x="379" y="131" width="1" height="1"/><rect x="380" y="130" width="1" height="1"/><rect x="381" y="130" width="1" height="1"/><rect x="382" y="129" width="1" height="1"/><rect x="383" y="129" width="1" height="1"/><rect x="384" y="129" width="1" height="1"/><rect x="385" y="128" width="1" height="1"/><rect x="386" y="128" width="1" height="1"/><rect x="387" y="128" width="1" height="1"/><rect x="388" y="128" width="1" height="1"/><rect x="389" y="127" width="1" height="1"/><rect x="390" y="127" width="1" height="1"/><rect x="391" y="126" width="1" height="1"/><rect x="392" y="126" width="1" height="1"/><rect x="393" y="126" width="1" height="1"/><rect x="394" y="126" width="1" height="1"/><rect x="395" y="126" width="1" height="1"/><rect x="396" y="126" width="1" height="1"/><rect x="397" y="126" width="1" height="1"/><rect x="398" y="127" width="1" height="2"/><rect x="399" y="129" width="1" height="1"/><rect x="400" y="130" width="1" height="1"/><rect x="401" y="131" width="1" height="2"/><rect x="402" y="133" width="1" height="1"/><rect x="403" y="134" width="1" height="2"/><rect x="404" y="136" width="1" height="1"/><rect x="405" y="137" width="1" height="1"/><rect x="406" y="138" width="1" height="2"/><rect x="407" y="140" width="1" height="1"/><rect x="408" y="141" width="1" height="1"/><rect x="409" y="142" width="1" height="1"/><rect x="410" y="142" width="1" height="1"/><rect x="411" y="143" width="1" height="1"/><rect x="412" y="144" width="1" height="1"/><rect x="413" y="145" width="1" height="1"/><rect x="414" y="146" width="1" height="2"/><rect x="415" y="148" width="1" height="1"/><rect x="416" y="149" width="1" height="1"/><rect x="417" y="150" width="1" height="1"/><rect x="418" y="151" width="1" height="1"/><rect x="419" y="152" width="1" height="2"/><rect x="420" y="154" width="1" height="1"/><rect x="421" y="155" width="1" height="1"/><rect x="422" y="156" width="1" height="1"/><rect x="423" y="157" width="1" height="1"/><rect x="424" y="158" width="1" height="1"/><rect x="425" y="158" width="1" height="1"/><rect x="426" y="159" width="1" height="1"/><rect x="427" y="160" width="1" height="2"/><rect x="428" y="162" width="1" height="2"/><rect x="429" y="164" width="1" height="2"/><rect x="430" y="166" width="1" height="2"/><rect x="431" y="168" width="1" height="2"/><rect x="432" y="170" width="1" height="1"/><rect x="433" y="171" width="1" height="2"/><rect x="434" y="173" width="1" height="2"/><rect x="435" y="175" width="1" height="2"/><rect x="436" y="177" width="1" height="2"/><rect x="437" y="179" width="1" height="1"/><rect x="438" y="180" width="1" height="2"/><rect x="439" y="182" width="1" height="2"/><rect x="440" y="184" width="1" height="1"/><rect x="441" y="185" width="1" height="2"/><rect x="442" y="187" width="1" height="1"/><rect x="443" y="188" width="1" height="1"/><rect x="444" y="188" width="1" height="1"/><rect x="445" y="189" width="1" height="1"/><rect x="446" y="189" width="1" height="1"/><rect x="447" y="190" width="1" height="1"/><rect x="448" y="190" width="1" height="1"/><rect x="449" y="190" width="1" height="1"/><rect x="450" y="190" width="1" height="1"/><rect x="451" y="190" width="1" height="1"/><rect x="452" y="190" width="1" height="1"/><rect x="453" y="190" width="1" height="1"/><rect x="454" y="190" width="1" height="1"/><rect x="455" y="189" width="1" height="1"/><rect x="456" y="189" width="1" height="1"/><rect x="457" y="189" width="1" height="1"/><rect x="458" y="188" width="1" height="1"/><rect x="459" y="188" width="1" height="1"/><rect x="460" y="187" width="1" height="1"/><rect x="461" y="187" width="1" height="1"/><rect x="462" y="186" width="1" height="1"/><rect x="463" y="185" width="1" height="1"/><rect x="464" y="184" width="1" height="1"/><rect x="465" y="184" width="1" height="1"/><rect x="466" y="183" width="1" height="1"/><rect x="467" y="182" width="1" height="1"/><rect x="468" y="181" width="1" height="1"/><rect x="469" y="180" width="1" height="1"/><rect x="470" y="179" width="1" height="1"/><rect x="471" y="178" width="1" height="1"/><rect x="472" y="177" width="1" height="1"/><rect x="473" y="175" width="1" height="2"/><rect x="474" y="174" width="1" height="1"/><rect x="475" y="173" width="1" height="1"/><rect x="476" y="171" width="1" height="2"/><rect x="477" y="170" width="1" height="1"/><rect x="478" y="169" width="1" height="1"/><rect x="479" y="167" width="1" height="2"/><rect x="480" y="166" width="1" height="1"/><rect x="481" y="165" width="1" height="1"/><rect x="482" y="164" width="1" height="1"/><rect x="483" y="163" width="1" height="1"/><rect x="484" y="162" width="1" height="1"/><rect x="485" y="162" width="1" height="1"/><rect x="486" y="161" width="1" height="1"/><rect x="487" y="160" width="1" height="1"/><rect x="488" y="159" width="1" height="1"/><rect x="489" y="158" width="1" height="1"/><rect x="490" y="158" width="1" height="1"/><rect x="491" y="157" width="1" height="1"/><rect x="492" y="156" width="1" height="1"/><rect x="493" y="155" width="1" height="1"/><rect x="494" y="155" width="1" height="1"/><rect x="495" y="154" width="1" height="1"/><rect x="496" y="154" width="1" height="1"/><rect x="497" y="153" width="1" height="1"/><rect x="498" y="152" width="1" height="1"/><rect x="499" y="151" width="1" height="1"/><rect x="500" y="150" width="1" height="1"/><rect x="501" y="149" width="1" height="1"/><rect x="502" y="148" width="1" height="1"/><rect x="503" y="147" width="1" height="1"/><rect x="504" y="146" width="1" height="1"/><rect x="505" y="145" width="1" height="1"/><rect x="506" y="144" width="1" height="1"/><rect x="507" y="143" width="1" height="1"/><rect x="508" y="142" width="1" height="1"/><rect x="509" y="141" width="1" height="1"/><rect x="510" y="140" width="1" height="1"/><rect x="511" y="139" width="1" height="1"/><rect x="512" y="138" width="1" height="1"/><rect x="513" y="137" width="1" height="1"/><rect x="514" y="136" width="1" height="1"/><rect x="515" y="136" width="1" height="1"/><rect x="516" y="135" width="1" height="1"/><rect x="517" y="134" width="1" height="1"/><rect x="518" y="133" width="1" height="1"/><rect x="519" y="132" width="1" height="1"/><rect x="520" y="131" width="1" height="1"/><rect x="521" y="130" width="1" height="1"/><rect x="522" y="129" width="1" height="1"/><rect x="523" y="128" width="1" height="1"/><rect x="524" y="127" width="1" height="1"/><rect x="525" y="127" width="1" height="1"/><rect x="526" y="126" width="1" height="1"/><rect x="527" y="125" width="1" height="1"/><rect x="528" y="123" width="1" height="2"/><rect x="529" y="122" width="1" height="1"/><rect x="530" y="121" width="1" height="1"/><rect x="531" y="119" width="1" height="2"/><rect x="532" y="118" width="1" height="1"/><rect x="533" y="117" width="1" height="1"/><rect x="534" y="115" width="1" height="2"/><rect x="535" y="114" width="1" height="1"/><rect x="536" y="113" width="1" height="1"/><rect x="537" y="112" width="1" height="1"/><rect x="538" y="111" width="1" height="1"/><rect x="539" y="109" width="1" height="2"/><rect x="540" y="108" width="1" height="1"/><rect x="541" y="107" width="1" height="1"/><rect x="542" y="106" width="1" height="1"/><rect x="543" y="105" width="1" height="1"/><rect x="544" y="103" width="1" height="2"/><rect x="545" y="102" width="1" height="1"/><rect x="546" y="101" width="1" height="1"/><rect x="547" y="100" width="1" height="1"/><rect x="548" y="99" width="1" height="1"/><rect x="549" y="98" width="1" height="1"/><rect x="550" y="97" width="1" height="1"/><rect x="551" y="96" width="1" height="1"/><rect x="552" y="95" width="1" height="1"/><rect x="553" y="95" width="1" height="1"/><rect x="554" y="94" width="1" height="1"/><rect x="555" y="94" width="1" height="1"/><rect x="556" y="93" width="1" height="1"/></g>
<filter id="crisp" x="0" y="0" width="100%" height="100%" color-interpolation-filters="sRGB"><feComponentTransfer><feFuncA type="discrete" tableValues="0 0 1 1 1"/></feComponentTransfer></filter>
<g filter="url(#crisp)"><text x="571" y="42" fill="#000" font-size="14" font-weight="bold" letter-spacing="0.2">1880.0</text><text x="571" y="75" fill="#000" font-size="14" font-weight="bold" letter-spacing="0.2">1860.0</text><text x="571" y="108" fill="#000" font-size="14" font-weight="bold" letter-spacing="0.2">1840.0</text><text x="571" y="141" fill="#000" font-size="14" font-weight="bold" letter-spacing="0.2">1820.0</text><text x="571" y="175" fill="#000" font-size="14" font-weight="bold" letter-spacing="0.2">1800.0</text><text x="571" y="208" fill="#000" font-size="14" font-weight="bold" letter-spacing="0.2">1780.0</text><text x="571" y="241" fill="#000" font-size="14" font-weight="bold" letter-spacing="0.2">1760.0</text><text x="571" y="274" fill="#000" font-size="14" font-weight="bold" letter-spacing="0.2">1740.0</text><text x="571" y="307" fill="#000" font-size="14" font-weight="bold" letter-spacing="0.2">1720.0</text><text x="571" y="341" fill="#000" font-size="14" font-weight="bold" letter-spacing="0.2">1700.0</text><text x="571" y="374" fill="#000" font-size="14" font-weight="bold" letter-spacing="0.2">1680.0</text><text x="571" y="407" fill="#000" font-size="14" font-weight="bold" letter-spacing="0.2">1660.0</text><text x="571" y="440" fill="#000" font-size="14" font-weight="bold" letter-spacing="0.2">1640.0</text><text x="123" y="461" fill="#000" font-size="14" font-weight="bold" letter-spacing="0.5">Nov</text><text x="223" y="461" fill="#000" font-size="14" font-weight="bold" letter-spacing="0.5">Dec</text><text x="327" y="461" fill="#000" font-size="14" font-weight="bold" letter-spacing="0.33">2014</text><text x="433" y="461" fill="#000" font-size="14" font-weight="bold" letter-spacing="1">Feb</text><text x="528" y="461" fill="#000" font-size="14" font-weight="bold" letter-spacing="1">Mar</text><text x="11" y="27" fill="#000" font-size="14" font-weight="bold" letter-spacing="0.333">03/11/2014</text><text x="92" y="27" fill="#000" font-size="14" font-weight="bold" letter-spacing="0.143">C=1865.2</text><text x="162" y="27" fill="#ff0000" font-size="14" font-weight="bold" letter-spacing="0.25">-12.0</text><text x="203" y="27" fill="#000" font-size="14" font-weight="bold" letter-spacing="0.143">O=1879.5</text><text x="274" y="27" fill="#000" font-size="14" font-weight="bold" letter-spacing="0.143">H=1881.8</text><text x="344" y="27" fill="#000" font-size="14" font-weight="bold" letter-spacing="-0.286">L=1863.1</text><text x="366.0 371.5 377.0 382.5 388.0 393.0 398.0 403.5 409.0 414.5 416.4 419.6 424.1 428.5 434.1 439.7 445.3 450.9 456.5 463.7 468.6 473.6 478.5 482.3 486.0 489.8 494.4 498.9 503.5 509.6 515.7 521.8 527.8 533.9 540.0 545.8 551.5 557.3 563.0 568.8 574.5 580.3 585.1 590.0 595.5 601.0 607.0 613.0 619.0" y="473.5" fill="#000" font-size="10" xml:space="preserve">Created with SuperCharts by Omega Research &#169; 1997</text></g>
</svg>
</body></html>
